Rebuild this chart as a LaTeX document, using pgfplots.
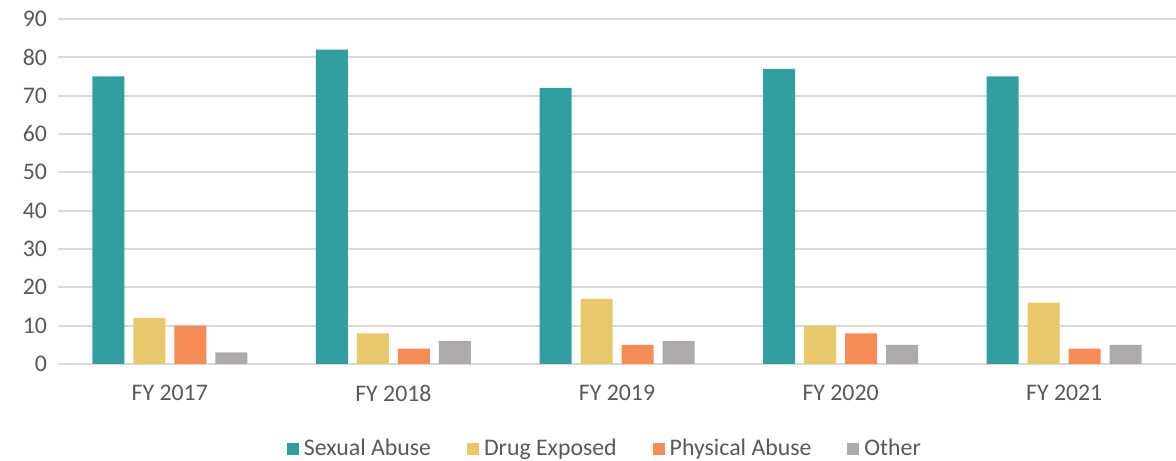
\documentclass[border=0pt]{standalone}
\usepackage{pgfplots}
\pgfplotsset{compat=1.18}
\usepackage{fontspec}
\setmainfont{Carlito}
\definecolor{cteal}{HTML}{319E9F}
\definecolor{cyel}{HTML}{E8C86A}
\definecolor{corg}{HTML}{F68B55}
\definecolor{cgray}{HTML}{AEAAAA}
\definecolor{ctext}{HTML}{595959}
\definecolor{cgrid}{HTML}{D9D9D9}
\begin{document}
\begin{tikzpicture}
\path[use as bounding box] (0,0) rectangle (588pt,230pt);
\begin{axis}[
  at={(29pt,48pt)}, anchor=south west,
  scale only axis, width=559pt, height=172.5pt,
  ybar=4.5pt, bar width=16pt,
  xmin=-0.5, xmax=4.5, ymin=0, ymax=90,
  ytick={0,10,...,90},
  xtick=data,
  xticklabels={FY 2017,FY 2018,FY 2019,FY 2020,FY 2021},
  axis line style={draw=none},
  major tick length=0pt,
  ymajorgrids, grid style={cgrid, line width=0.9pt},
  tick label style={font=\fontsize{11.9}{14}\selectfont, text=ctext},
  /pgf/number format/assume math mode=true,
  yticklabel style={xshift=-2pt},
  xticklabel style={yshift=-7pt},
  legend style={at={(0.4905,-0.247)}, anchor=center, draw=none, fill=none,
    legend columns=4, font=\fontsize{11.9}{14}\selectfont, text=ctext,
    /tikz/every even column/.append style={column sep=15.5pt},
    nodes={inner xsep=2.5pt}},
  mylegend/.style={legend image code/.code={\fill[##1] (0pt,-3pt) rectangle (6pt,3pt);}},
]
\addplot[fill=cteal, draw=none, mylegend] coordinates {(0,75) (1,82) (2,72) (3,77) (4,75)};
\addplot[fill=cyel, draw=none, mylegend] coordinates {(0,12) (1,8) (2,17) (3,10) (4,16)};
\addplot[fill=corg, draw=none, mylegend] coordinates {(0,10) (1,4) (2,5) (3,8) (4,4)};
\addplot[fill=cgray, draw=none, mylegend] coordinates {(0,3) (1,6) (2,6) (3,5) (4,5)};
\legend{Sexual Abuse, Drug Exposed, Physical Abuse, Other}
\end{axis}
\end{tikzpicture}
\end{document}
